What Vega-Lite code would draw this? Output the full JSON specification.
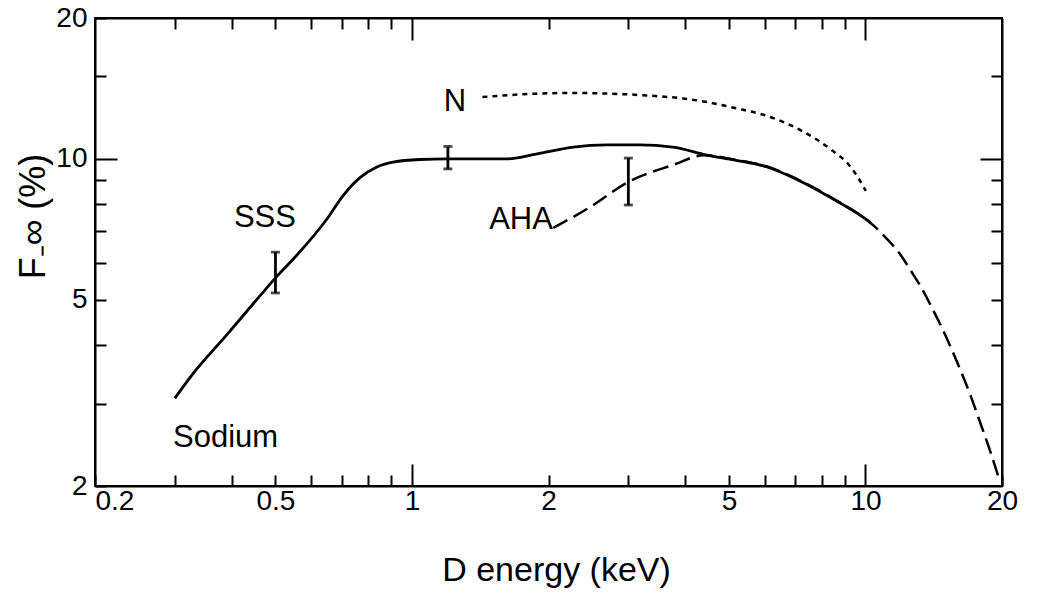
{
  "$schema": "https://vega.github.io/schema/vega-lite/v6.json",
  "width": 907,
  "height": 468,
  "autosize": "none",
  "padding": {"left": 95, "top": 18, "right": 35, "bottom": 108},
  "background": "white",
  "config": {
    "font": "Liberation Sans",
    "view": {"stroke": "black", "strokeWidth": 2},
    "axis": {
      "grid": false,
      "domainColor": "black",
      "domainWidth": 2,
      "tickColor": "black",
      "tickWidth": 2,
      "labelColor": "black",
      "labelFont": "Liberation Sans",
      "labelFontSize": 28,
      "titleColor": "black",
      "titleFont": "Liberation Sans",
      "titleFontWeight": "normal",
      "labelOverlap": false,
      "labelFlush": false
    }
  },
  "datasets": {
    "sodium": [
      {"e": 0.30, "f": 3.08}, {"e": 0.33, "f": 3.49}, {"e": 0.39, "f": 4.20}, {"e": 0.46, "f": 5.07},
      {"e": 0.50, "f": 5.57}, {"e": 0.55, "f": 6.14}, {"e": 0.65, "f": 7.45}, {"e": 0.705, "f": 8.35},
      {"e": 0.768, "f": 9.12}, {"e": 0.837, "f": 9.61}, {"e": 0.908, "f": 9.84}, {"e": 1.04, "f": 9.97},
      {"e": 1.2, "f": 10.0}, {"e": 1.62, "f": 10.0}, {"e": 1.92, "f": 10.29}, {"e": 2.27, "f": 10.60},
      {"e": 2.69, "f": 10.71}, {"e": 3.18, "f": 10.71}, {"e": 3.76, "f": 10.60}, {"e": 4.47, "f": 10.19},
      {"e": 5.16, "f": 9.94}, {"e": 6.07, "f": 9.61}, {"e": 7.17, "f": 8.97}, {"e": 8.48, "f": 8.21},
      {"e": 10.0, "f": 7.44}, {"e": 10.3, "f": 7.28}
    ],
    "aha": [
      {"e": 2.05, "f": 7.12}, {"e": 2.47, "f": 7.89}, {"e": 3.0, "f": 8.93}, {"e": 3.76, "f": 9.70},
      {"e": 4.4, "f": 10.18}, {"e": 5.16, "f": 9.96}, {"e": 6.07, "f": 9.63}, {"e": 7.17, "f": 8.99},
      {"e": 8.48, "f": 8.23}, {"e": 10.0, "f": 7.44}, {"e": 10.44, "f": 7.19}, {"e": 11.16, "f": 6.74},
      {"e": 11.86, "f": 6.30}, {"e": 12.6, "f": 5.76}, {"e": 13.26, "f": 5.32}, {"e": 13.87, "f": 4.90},
      {"e": 14.75, "f": 4.35}, {"e": 15.92, "f": 3.68}, {"e": 17.09, "f": 3.10}, {"e": 17.98, "f": 2.70},
      {"e": 18.82, "f": 2.38}, {"e": 19.8, "f": 2.04}
    ],
    "n": [
      {"e": 1.43, "f": 13.56}, {"e": 1.916, "f": 13.79}, {"e": 2.265, "f": 13.83}, {"e": 2.69, "f": 13.79},
      {"e": 3.18, "f": 13.69}, {"e": 3.96, "f": 13.46}, {"e": 4.47, "f": 13.23}, {"e": 5.16, "f": 12.84},
      {"e": 6.07, "f": 12.35}, {"e": 7.17, "f": 11.53}, {"e": 8.48, "f": 10.39}, {"e": 9.24, "f": 9.66},
      {"e": 10.02, "f": 8.54}
    ],
    "bars": [
      {"e": 0.5, "lo": 5.17, "hi": 6.32},
      {"e": 1.2, "lo": 9.52, "hi": 10.63},
      {"e": 3.0, "lo": 7.97, "hi": 10.04}
    ],
    "labels": [
      {"e": 0.474, "f": 7.47, "t": "SSS"},
      {"e": 1.244, "f": 13.2, "t": "N"},
      {"e": 1.74, "f": 7.40, "t": "AHA"},
      {"e": 0.388, "f": 2.53, "t": "Sodium"}
    ]
  },
  "layer": [
    {
      "data": {"name": "sodium"},
      "mark": {"type": "line", "color": "black", "strokeWidth": 2.8, "interpolate": "monotone"},
      "encoding": {
        "x": {
          "field": "e", "type": "quantitative",
          "scale": {"type": "log", "domain": [0.2, 20], "nice": false},
          "axis": {
            "orient": "bottom",
            "zindex": 1,
            "ticks": true,
            "values": [0.2, 0.3, 0.4, 0.5, 0.6, 0.7, 0.8, 0.9, 1, 2, 3, 4, 5, 6, 7, 8, 9, 10, 20],
            "labelExpr": "indexof([0.2, 0.5, 1, 2, 5, 10, 20], datum.value) >= 0 ? '' + datum.value : ''",
            "tickSize": {"condition": {"test": "datum.value == 1 || datum.value == 10", "value": -22}, "value": -11},
            "labelPadding": {"condition": {"test": "datum.value == 1 || datum.value == 10", "value": 23}, "value": 12},
            "labelAlign": {"condition": {"test": "datum.value == 0.2", "value": "left"}, "value": "center"},
            "title": "D energy (keV)",
            "titleFontSize": 34,
            "titleX": 461,
            "titleY": 84,
            "titleAlign": "center",
            "titleBaseline": "middle"
          }
        },
        "y": {
          "field": "f", "type": "quantitative",
          "scale": {"type": "log", "domain": [2, 20], "nice": false},
          "axis": {
            "orient": "left",
            "zindex": 1,
            "values": [2, 3, 4, 5, 6, 7, 8, 9, 10, 15, 20],
            "labelExpr": "indexof([2, 5, 10, 20], datum.value) >= 0 ? '' + datum.value : ''",
            "tickSize": {"condition": {"test": "datum.value == 10", "value": -22}, "value": -11},
            "labelPadding": {"condition": {"test": "datum.value == 10", "value": 30}, "value": 19},
            "title": "F\u208B\u221E (%)",
            "titleFontSize": 36,
            "titleAngle": -90,
            "titleX": -62,
            "titleY": 198,
            "titleAlign": "center",
            "titleBaseline": "middle"
          }
        }
      }
    },
    {
      "data": {"name": "n"},
      "mark": {"type": "line", "color": "black", "strokeWidth": 2.5, "strokeDash": [5, 5], "interpolate": "monotone"},
      "encoding": {
        "x": {
          "field": "e", "type": "quantitative",
          "scale": {"type": "log", "domain": [0.2, 20], "nice": false},
          "axis": {
            "orient": "top",
            "zindex": 1,
            "ticks": true,
            "values": [0.3, 0.4, 0.5, 0.6, 0.7, 0.8, 0.9, 1, 2, 3, 4, 5, 6, 7, 8, 9, 10],
            "labels": false,
            "title": null,
            "tickSize": {"condition": {"test": "datum.value == 1 || datum.value == 10", "value": -22}, "value": -11}
          }
        },
        "y": {
          "field": "f", "type": "quantitative",
          "scale": {"type": "log", "domain": [2, 20], "nice": false},
          "axis": {
            "orient": "right",
            "zindex": 1,
            "values": [3, 4, 5, 6, 7, 8, 9, 10, 15],
            "labels": false,
            "title": null,
            "tickSize": {"condition": {"test": "datum.value == 10", "value": -22}, "value": -11}
          }
        }
      }
    },
    {
      "data": {"name": "aha"},
      "mark": {"type": "line", "color": "black", "strokeWidth": 2.5, "strokeDash": [16, 7], "interpolate": "monotone"},
      "encoding": {
        "x": {"field": "e", "type": "quantitative", "scale": {"type": "log", "domain": [0.2, 20], "nice": false}, "axis": null},
        "y": {"field": "f", "type": "quantitative", "scale": {"type": "log", "domain": [2, 20], "nice": false}, "axis": null}
      }
    },
    {
      "data": {"name": "bars"},
      "mark": {"type": "errorbar", "ticks": true, "size": 9, "thickness": 2.8, "color": "black"},
      "encoding": {
        "x": {"field": "e", "type": "quantitative", "scale": {"type": "log", "domain": [0.2, 20], "nice": false}, "axis": null},
        "y": {"field": "lo", "type": "quantitative", "scale": {"type": "log", "domain": [2, 20], "nice": false}, "axis": null},
        "y2": {"field": "hi"}
      }
    },
    {
      "data": {"name": "labels"},
      "mark": {"type": "text", "font": "Liberation Sans", "fontSize": 31, "color": "black", "align": "center", "baseline": "middle"},
      "encoding": {
        "x": {"field": "e", "type": "quantitative", "scale": {"type": "log", "domain": [0.2, 20], "nice": false}, "axis": null},
        "y": {"field": "f", "type": "quantitative", "scale": {"type": "log", "domain": [2, 20], "nice": false}, "axis": null},
        "text": {"field": "t"}
      }
    }
  ],
  "resolve": {"axis": {"x": "independent", "y": "independent"}}
}
